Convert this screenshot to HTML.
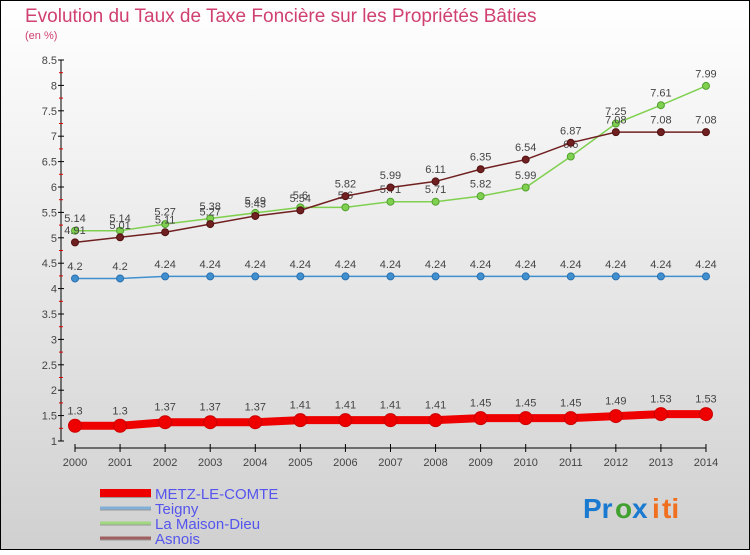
<!DOCTYPE html>
<html><head><meta charset="utf-8"><style>
body{margin:0}
#c{width:750px;height:550px;position:relative;font-family:"Liberation Sans",sans-serif}
</style></head><body>
<div id="c">
<svg id="s" width="750" height="550" xmlns="http://www.w3.org/2000/svg">
<defs><linearGradient id="bg" x1="0" y1="0" x2="0" y2="1"><stop offset="0" stop-color="#ffffff"/><stop offset="1" stop-color="#d0d0d0"/></linearGradient></defs>
<rect x="0.5" y="0.5" width="749" height="549" fill="url(#bg)" stroke="#000"/>
<text x="25" y="22" font-size="19" fill="#d04070">Evolution du Taux de Taxe Foncière sur les Propriétés Bâties</text>
<text x="25" y="39" font-size="11" fill="#d04070">(en %)</text>
<g id="axes"></g><g id="series"></g><g id="legend"></g>
<g font-size="28" font-weight="bold">
<text x="583" y="518" fill="#1a7ad0">Pr</text><text x="615" y="518" fill="#40a030">o</text><text x="632" y="518" fill="#1a7ad0">x</text><text x="652" y="518" fill="#f07020">i</text><text x="662" y="518" fill="#f07020">ti</text>
</g>
</svg></div>
<script>
const years=[2000,2001,2002,2003,2004,2005,2006,2007,2008,2009,2010,2011,2012,2013,2014];
const metz=[1.3,1.3,1.37,1.37,1.37,1.41,1.41,1.41,1.41,1.45,1.45,1.45,1.49,1.53,1.53];
const teigny=[4.2,4.2,4.24,4.24,4.24,4.24,4.24,4.24,4.24,4.24,4.24,4.24,4.24,4.24,4.24];
const maison=[5.14,5.14,5.27,5.38,5.49,5.6,5.6,5.71,5.71,5.82,5.99,6.6,7.25,7.61,7.99];
const asnois=[4.91,5.01,5.11,5.27,5.43,5.54,5.82,5.99,6.11,6.35,6.54,6.87,7.08,7.08,7.08];
const yTicks=[1,1.5,2,2.5,3,3.5,4,4.5,5,5.5,6,6.5,7,7.5,8,8.5];
const seriesNames=["METZ-LE-COMTE","Teigny","La Maison-Dieu","Asnois"];
const NS="http://www.w3.org/2000/svg";
const x=i=>75+i*45.07;
const y=v=>60+(8.5-v)*50.8;
function mk(tag,attrs,parent,text){const e=document.createElementNS(NS,tag);for(const k in attrs)e.setAttribute(k,attrs[k]);if(text!==undefined)e.textContent=text;parent.appendChild(e);return e;}
const ax=document.getElementById('axes');
let l=mk('line',{x1:61,y1:y(8.5),x2:61,y2:y(1),stroke:'#000'},ax);


yTicks.forEach(v=>{
 mk('line',{x1:58,y1:y(v),x2:64,y2:y(v),stroke:'#000'},ax);
 if(v<8.5) mk('line',{x1:59,y1:y(v+0.25),x2:63,y2:y(v+0.25),stroke:'#e00000'},ax);
 const t=mk('text',{x:57,y:y(v)+4,'font-size':11,fill:'#444','text-anchor':'end'},ax,String(v));
 
 
});
l=mk('line',{x1:x(0),y1:448,x2:x(14),y2:448,stroke:'#000'},ax);


years.forEach((yr,i)=>{
 mk('line',{x1:x(i),y1:444,x2:x(i),y2:452,stroke:'#000'},ax);
 const t=mk('text',{x:x(i),y:466,'font-size':11,fill:'#444','text-anchor':'middle'},ax,String(yr));
 
 
});
const sg=document.getElementById('series');
function draw(data,color,dark,w,r,name){
 const g=mk('g',{},sg);
 
 
 mk('polyline',{points:data.map((v,i)=>x(i)+','+y(v)).join(' '),fill:'none',stroke:color,'stroke-width':w},g);
 data.forEach((v,i)=>{
  const c=mk('circle',{cx:x(i),cy:y(v),r:r,fill:color,stroke:dark,'stroke-width':1},g);
  
  
  const t=mk('text',{x:x(i),y:y(v)-r-5,'font-size':11,fill:'#444','text-anchor':'middle'},g,String(v));
  
  
 });
}
draw(teigny,'#4090d0','#2a70b0',1.5,3.5,'series-teigny');
draw(maison,'#80d050','#50a030',1.5,3.5,'series-la-maison-dieu');
draw(asnois,'#702020','#501010',1.5,3.5,'series-asnois');
draw(metz,'#ee0000','#cc0000',8,6.5,'series-metz-le-comte');
const lg=document.getElementById('legend');
const lc=['#ee0000','#80b0d8','#a0d880','#a06060'],lw=[8,3,3,3];
seriesNames.forEach((n,i)=>{
 const g=mk('g',{},lg);
 
 
 const yy=493+i*15;
 mk('line',{x1:100,y1:yy+1,x2:151,y2:yy+1,stroke:'#999','stroke-width':lw[i]},g);
 mk('line',{x1:100,y1:yy,x2:151,y2:yy,stroke:lc[i],'stroke-width':lw[i]},g);
 mk('text',{x:155,y:yy+6,'font-size':15,fill:'#5555ee'},g,n);
});
</script>
</body></html>
